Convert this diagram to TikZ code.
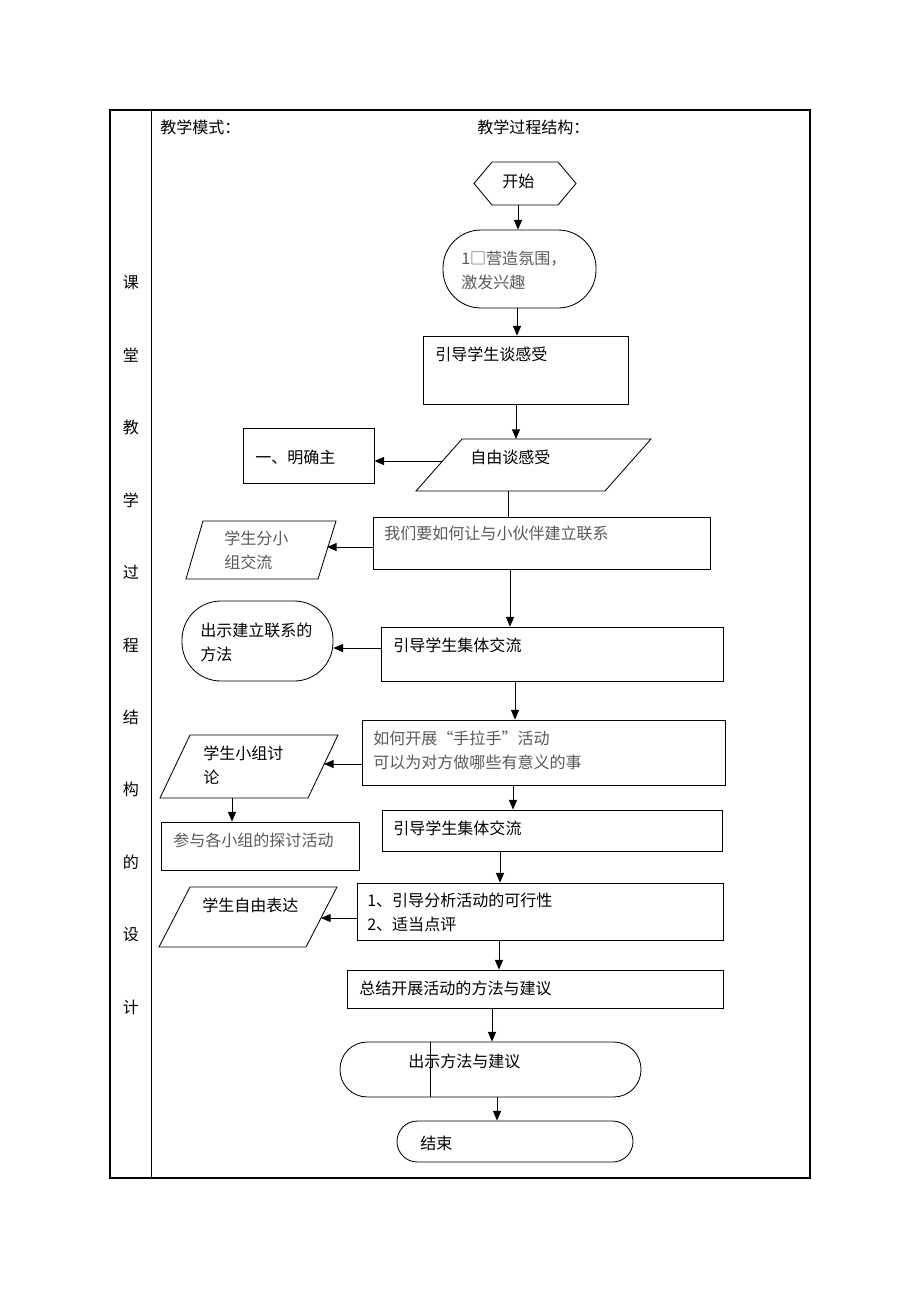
\documentclass[tikz,border=0pt]{standalone}
\usepackage{fontspec}
\setmainfont{Noto Sans CJK SC}
\usetikzlibrary{arrows.meta,calc,fit,shapes.symbols}

\begin{document}
\begin{tikzpicture}[x=0.025cm, y=-0.025cm, >={Triangle[length=2.4mm,width=2mm]},
  every node/.style={font=\fontsize{11.4pt}{17pt}\selectfont},
  frame/.style={line width=1.1pt},
  box/.style={draw, line width=0.6pt, rectangle, inner sep=0pt},
  term/.style={box, rounded corners=#1},
  para/.style={draw, line width=0.6pt, line join=miter},
  txt/.style={anchor=west, inner sep=0pt, align=left},
  gtxt/.style={txt, text=black!65},
  link/.style={->, line width=0.6pt}]

    \useasboundingbox (0,0) rectangle (920,1302);

    \draw[frame] (110,110) rectangle (810,1178);
    \draw[line width=0.6pt] (151,110) -- (151,1178);
    \foreach \c [count=\i] in {课,堂,教,学,过,程,结,构,的,设,计}
        \node (v\i) at (131,{283+72.4*(\i-1)}) {\c};

    \node[txt] (mode) at (160,127) {教学模式：};
    \node[txt] (proc) at (477,127) {教学过程结构：};

    \node[draw, line width=0.6pt, signal, signal to=west and east, signal pointer angle=100,
          minimum width=2.55cm, minimum height=1.075cm, inner sep=0pt] (s0) at (525,183.5) {};
    \node[txt] (t0) at (502,181) {开始};

    \node[term=0.95cm, fit={(443,230) (596,308)}] (s1) {};
    \node[gtxt] (t1) at (461,270) {1□营造氛围，\\激发兴趣};

    \node[box, fit={(423,336) (628,404)}] (s2) {};
    \node[txt] (t2) at (435,354) {引导学生谈感受};

    \draw[para] (462,439) -- (651,439) -- (605,491) -- (416,491) -- cycle;
    \coordinate (s3n) at (516,439);
    \coordinate (s3s) at (508,491);
    \coordinate (s3w) at (442,461);
    \node[txt] (t3) at (470,457) {自由谈感受};

    \node[box, fit={(243,428) (374,483)}] (s4) {};
    \node[txt] (t4) at (255,457) {一、明确主};

    \node[box, fit={(373,517) (710,569)}] (s5) {};
    \node[gtxt] (t5) at (384,533) {我们要如何让与小伙伴建立联系};

    \draw[para] (203,521) -- (336,521) -- (318,579) -- (186,579) -- cycle;
    \coordinate (s6e) at (327,547);
    \node[gtxt] (t6) at (224,550) {学生分小\\组交流};

    \node[box, fit={(381,627) (723,681)}] (s7) {};
    \node[txt] (t7) at (393,645) {引导学生集体交流};

    \node[term=0.97cm, fit={(182,601) (333,681)}] (s8) {};
    \node[txt] (t8) at (200,642) {出示建立联系的\\方法};

    \node[box, fit={(362,720) (725,785)}] (s9) {};
    \node[gtxt] (t9) at (373,750) {如何开展“手拉手”活动\\可以为对方做哪些有意义的事};

    \draw[para] (190,735) -- (338,735) -- (308,798) -- (160,798) -- cycle;
    \coordinate (s10e) at (324,764);
    \coordinate (s10s) at (232,798);
    \node[txt] (t10) at (203,765) {学生小组讨\\论};

    \node[box, fit={(161,822) (359,870)}] (s11) {};
    \node[gtxt] (t11) at (173,840) {参与各小组的探讨活动};

    \node[box, fit={(382,810) (722,851)}] (s12) {};
    \node[txt] (t12) at (393,828) {引导学生集体交流};

    \node[box, fit={(357,883) (723,940)}] (s13) {};
    \node[txt] (t13) at (367,912) {1、引导分析活动的可行性\\2、适当点评};

    \draw[para] (190,887) -- (337,887) -- (306,947) -- (159,947) -- cycle;
    \coordinate (s14e) at (321,918);
    \node[txt] (t14) at (202,905) {学生自由表达};

    \node[box, fit={(347,970) (723,1008)}] (s15) {};
    \node[txt] (t15) at (359,988) {总结开展活动的方法与建议};

    \node[term=0.68cm, fit={(340,1042) (641,1097)}] (s16) {};
    \draw[line width=0.6pt] (s16.north -| 430,0) -- (s16.south -| 430,0);
    \node[txt] (t16) at (408,1061) {出示方法与建议};

    \node[term=0.51cm, fit={(397,1121) (633,1162)}] (s17) {};
    \node[txt] (t17) at (420,1143) {结束};

    \draw[link] (s0.south -| 518,0) -- (s1.north -| 518,0);
    \draw[link] (s1.south -| 517,0) -- (s2.north -| 517,0);
    \draw[link] (s2.south -| 516,0) -- (s3n);
    \draw[link] (s3w) -- (s4.east |- s3w);
    \draw[line width=0.6pt] (s3s) -- (s5.north -| s3s);
    \draw[link] (s5.west |- s6e) -- (s6e);
    \draw[link] (s5.south -| 510,0) -- (s7.north -| 510,0);
    \draw[link] (s7.west |- 0,648) -- (s8.east |- 0,648);
    \draw[link] (s7.south -| 515,0) -- (s9.north -| 515,0);
    \draw[link] (s9.west |- s10e) -- (s10e);
    \draw[link] (s10s) -- (s11.north -| s10s);
    \draw[link] (s9.south -| 513,0) -- (s12.north -| 513,0);
    \draw[link] (s12.south -| 500,0) -- (s13.north -| 500,0);
    \draw[link] (s13.west |- s14e) -- (s14e);
    \draw[link] (s13.south -| 499,0) -- (s15.north -| 499,0);
    \draw[link] (s15.south -| 492,0) -- (s16.north -| 492,0);
    \draw[link] (s16.south -| 497,0) -- (s17.north -| 497,0);

\end{tikzpicture}
\end{document}
